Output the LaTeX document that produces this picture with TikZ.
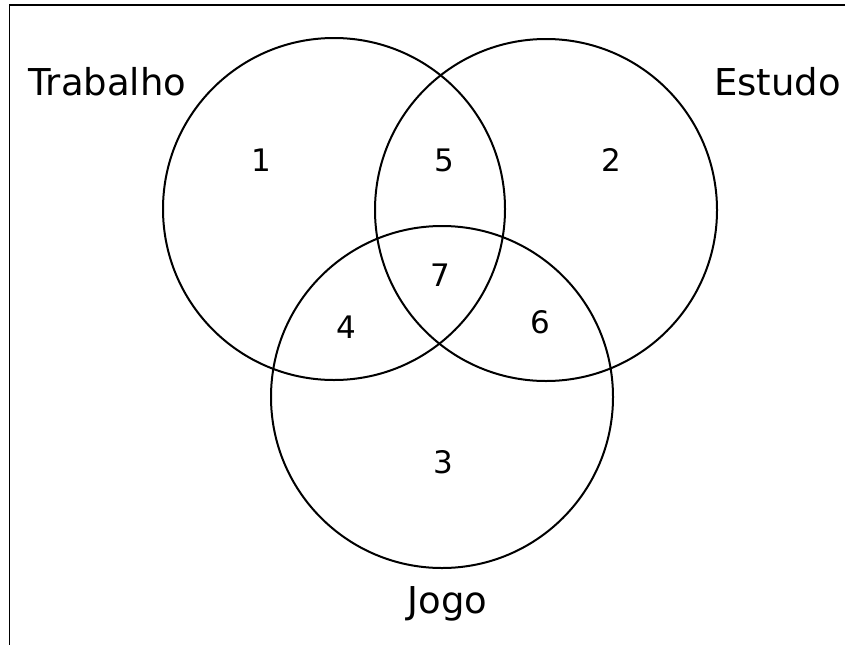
\documentclass[tikz,border=0pt]{standalone}
\usepackage{fontspec}
\setmainfont{DejaVu Sans}
\begin{document}
\begin{tikzpicture}[x=1pt,y=-1pt,
  setcircle/.style={draw=black,line width=2pt},
  setlabel/.style={inner sep=0pt,anchor=base,font=\fontsize{37}{40}\selectfont},
  region/.style={inner sep=0pt,anchor=center,font=\fontsize{31}{34}\selectfont},
  frameline/.style={draw=black,line width=1.5pt}]
\useasboundingbox (0,0) rectangle (850,645);
\coordinate (tl) at (9.5,5);
\coordinate (tr) at (845,5);
\coordinate (bl) at (9.5,645);
\draw[frameline] (tr) -- (tl) -- (bl);
\node[setcircle,circle,minimum size=342pt,inner sep=0pt] (ctrab) at (334,209) {};
\node[setcircle,circle,minimum size=342pt,inner sep=0pt] (cest) at (546,210) {};
\node[setcircle,circle,minimum size=342pt,inner sep=0pt] (cjogo) at (442,397) {};
\node[setlabel] (ltrab) at (107.5,95) {Trabalho};
\node[setlabel] (lest) at (777.5,95) {Estudo};
\node[setlabel] (ljogo) at (447.5,613) {Jogo};
\node[region] (r1) at (261.5,160) {1};
\node[region] (r5) at (444.5,160) {5};
\node[region] (r2) at (611,160) {2};
\node[region] (r7) at (440.5,275) {7};
\node[region] (r4) at (346,327) {4};
\node[region] (r6) at (540,322) {6};
\node[region] (r3) at (443,462) {3};
\end{tikzpicture}
\end{document}
